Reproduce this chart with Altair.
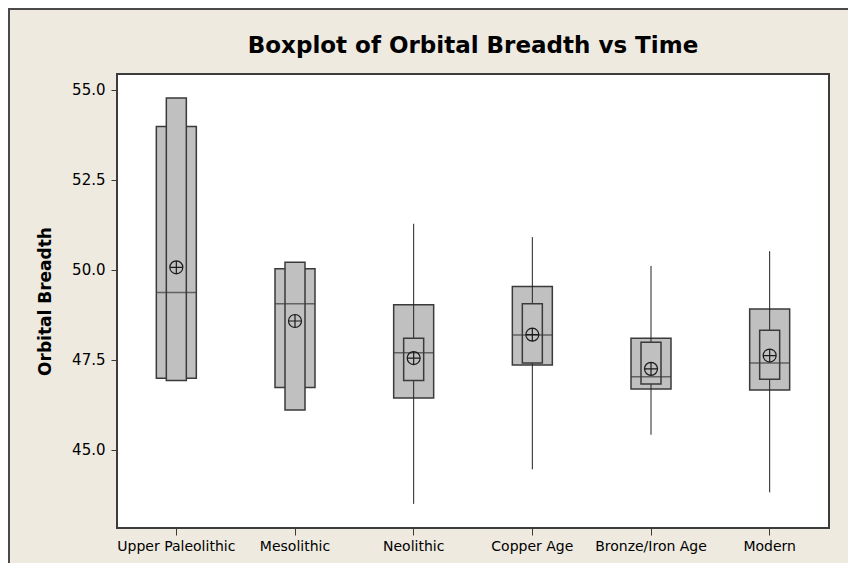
import altair as alt
import pandas as pd

categories = ["Upper Paleolithic", "Mesolithic", "Neolithic", "Copper Age", "Bronze/Iron Age", "Modern"]
whisker_low = [46.99, 46.73, 43.50, 44.46, 45.42, 43.82]
q1 = [46.99, 46.73, 46.44, 47.36, 46.69, 46.66]
median = [49.37, 49.06, 47.70, 48.19, 47.03, 47.41]
q3 = [53.98, 50.03, 49.03, 49.54, 48.10, 48.91]
whisker_high = [53.98, 50.03, 51.28, 50.91, 50.11, 50.52]
ci_low = [46.93, 46.11, 46.93, 47.41, 46.83, 46.96]
ci_high = [54.77, 50.21, 48.10, 49.06, 47.99, 48.32]
mean = [50.07, 48.58, 47.55, 48.20, 47.25, 47.62]
y_ticks = [45.0, 47.5, 50.0, 52.5, 55.0]

df = pd.DataFrame({
    "Time": categories, "wlo": whisker_low, "q1": q1, "med": median, "q3": q3,
    "whi": whisker_high, "cilo": ci_low, "cihi": ci_high, "mean": mean,
})

FONT = "DejaVu Sans"
STROKE = "#3a3a3a"
FILL = "#C0C0C0"

x = alt.X("Time:N", sort=categories, title=None,
          scale=alt.Scale(paddingInner=0, paddingOuter=0),
          axis=alt.Axis(labelAngle=0, labelFont=FONT, labelFontSize=14, labelColor="black",
                        tickSize=7, tickColor=STROKE, labelPadding=4, domain=False))
yscale = alt.Scale(domain=[42.83, 55.44], nice=False, zero=False)
yaxis = alt.Axis(values=y_ticks, format=".1f", grid=False, domain=False,
                 labelFont=FONT, labelFontSize=15, labelColor="black", labelPadding=6,
                 tickSize=6, tickColor=STROKE,
                 title="Orbital Breadth", titleFont=FONT, titleFontSize=17, titleFontWeight="bold",
                 titleColor="black", titleX=-72, titleBaseline="middle")

base = alt.Chart(df)

whiskers = base.mark_rule(color="#222222", strokeWidth=1).encode(
    x=x, y=alt.Y("wlo:Q", scale=yscale, axis=yaxis), y2="whi:Q")
box = base.mark_bar(size=40, fill=FILL, stroke=STROKE, strokeWidth=1.5).encode(
    x=x, y=alt.Y("q1:Q", scale=yscale, axis=yaxis), y2="q3:Q")
ci = base.mark_bar(size=20, fill=FILL, stroke=STROKE, strokeWidth=1.5).encode(
    x=x, y=alt.Y("cilo:Q", scale=yscale, axis=yaxis), y2="cihi:Q")
med = base.mark_tick(size=40, thickness=1.5, color=STROKE, orient="horizontal").encode(
    x=x, y=alt.Y("med:Q", scale=yscale, axis=yaxis))
mean_sym = base.mark_point(
    shape="M -1 0 A 1 1 0 1 0 1 0 A 1 1 0 1 0 -1 0 Z M -1 0 L 1 0 M 0 -1 L 0 1",
    size=169, filled=False, stroke="#1a1a1a", strokeWidth=1.2, opacity=1).encode(
    x=x, y=alt.Y("mean:Q", scale=yscale, axis=yaxis))

frame_df = pd.DataFrame({"k": [0]})
left_line = alt.Chart(frame_df).mark_rule(color="#4a4a4a", strokeWidth=2).encode(
    x=alt.value(-108), y=alt.value(-65), y2=alt.value(489))
top_line = alt.Chart(frame_df).mark_rule(color="#4a4a4a", strokeWidth=2).encode(
    x=alt.value(-109), x2=alt.value(731), y=alt.value(-65))

chart = alt.layer(left_line, top_line, box, whiskers, ci, med, mean_sym).properties(
    width=712, height=454,
    autosize=alt.AutoSizeParams(type="none"),
    padding={"left": 109, "top": 66, "right": 19, "bottom": 35},
    background="#EEEAE0",
    title=alt.TitleParams("Boxplot of Orbital Breadth vs Time", font=FONT, fontSize=23,
                          fontWeight="bold", color="black", anchor="middle", offset=0,
                          dy=50, frame="group"),
).configure_view(stroke="#3c3c3c", strokeWidth=2, fill="white")

chart.save("out.html", embed_options={"renderer": "svg", "actions": False})
